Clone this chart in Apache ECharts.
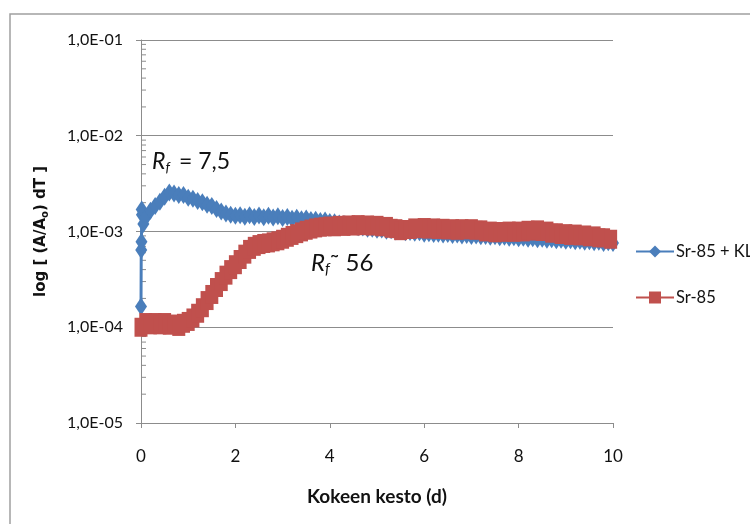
<!DOCTYPE html>
<html>
<head>
<meta charset="utf-8">
<script src="https://cdn.jsdelivr.net/npm/echarts@6/dist/echarts.min.js"></script>
<style>
  html, body { margin: 0; padding: 0; background: #fff; }
  #chart { width: 750px; height: 524px; }
</style>
</head>
<body>
<div id="chart"></div>
<script>
// Kokeen kesto (d) -> log [ (A/A0) dT ]
var blueDays = [0, 0.005, 0.01, 0.015, 0.02, 0.05,
  0.1, 0.2, 0.3, 0.4, 0.5, 0.6, 0.7, 0.8, 0.9, 1.0,
  1.1, 1.2, 1.3, 1.4, 1.5, 1.6, 1.7, 1.8, 1.9, 2.0,
  2.1, 2.2, 2.3, 2.4, 2.5, 2.6, 2.7, 2.8, 2.9, 3.0,
  3.1, 3.2, 3.3, 3.4, 3.5, 3.6, 3.7, 3.8, 3.9, 4.0,
  4.1, 4.2, 4.3, 4.4, 4.5, 4.6, 4.7, 4.8, 4.9, 5.0,
  5.1, 5.2, 5.3, 5.4, 5.5, 5.6, 5.7, 5.8, 5.9, 6.0,
  6.1, 6.2, 6.3, 6.4, 6.5, 6.6, 6.7, 6.8, 6.9, 7.0,
  7.1, 7.2, 7.3, 7.4, 7.5, 7.6, 7.7, 7.8, 7.9, 8.0,
  8.1, 8.2, 8.3, 8.4, 8.5, 8.6, 8.7, 8.8, 8.9, 9.0,
  9.1, 9.2, 9.3, 9.4, 9.5, 9.6, 9.7, 9.8, 9.9, 10.0];
var blueValues = [1.65e-4, 6.4e-4, 7.8e-4, 1.7e-3, 1.5e-3, 1.2e-3,
  1.4e-3, 1.65e-3, 1.85e-3, 2.05e-3, 2.3e-3, 2.55e-3, 2.5e-3, 2.4e-3, 2.4e-3, 2.25e-3,
  2.2e-3, 2.08e-3, 2.02e-3, 1.9e-3, 1.85e-3, 1.72e-3, 1.62e-3, 1.54e-3, 1.5e-3, 1.46e-3,
  1.48e-3, 1.43e-3, 1.48e-3, 1.42e-3, 1.47e-3, 1.41e-3, 1.46e-3, 1.4e-3, 1.44e-3, 1.38e-3,
  1.42e-3, 1.36e-3, 1.39e-3, 1.34e-3, 1.37e-3, 1.32e-3, 1.33e-3, 1.29e-3, 1.3e-3, 1.26e-3,
  1.25e-3, 1.21e-3, 1.2e-3, 1.16e-3, 1.15e-3, 1.11e-3, 1.1e-3, 1.07e-3, 1.07e-3, 1.04e-3,
  1.05e-3, 1.02e-3, 1.03e-3, 1.0e-3, 1.01e-3, 0.98e-3, 0.99e-3, 0.97e-3, 0.98e-3, 0.95e-3,
  0.96e-3, 0.94e-3, 0.95e-3, 0.93e-3, 0.94e-3, 0.92e-3, 0.93e-3, 0.91e-3, 0.92e-3, 0.9e-3,
  0.91e-3, 0.89e-3, 0.9e-3, 0.88e-3, 0.89e-3, 0.87e-3, 0.88e-3, 0.86e-3, 0.87e-3, 0.85e-3,
  0.86e-3, 0.84e-3, 0.85e-3, 0.83e-3, 0.84e-3, 0.82e-3, 0.83e-3, 0.81e-3, 0.82e-3, 0.8e-3,
  0.81e-3, 0.79e-3, 0.8e-3, 0.78e-3, 0.79e-3, 0.77e-3, 0.78e-3, 0.76e-3, 0.77e-3, 0.76e-3];

var redDays = [0, 0.1, 0.2, 0.3, 0.4, 0.5, 0.6, 0.7, 0.8, 0.9,
  1.0, 1.1, 1.2, 1.3, 1.4, 1.5, 1.6, 1.7, 1.8, 1.9,
  2.0, 2.1, 2.2, 2.3, 2.4, 2.5, 2.6, 2.7, 2.8, 2.9,
  3.0, 3.1, 3.2, 3.3, 3.4, 3.5, 3.6, 3.7, 3.8, 3.9,
  4.0, 4.1, 4.2, 4.3, 4.4, 4.5, 4.6, 4.7, 4.8, 4.9,
  5.0, 5.1, 5.2, 5.3, 5.4, 5.5, 5.6, 5.7, 5.8, 5.9,
  6.0, 6.1, 6.2, 6.3, 6.4, 6.5, 6.6, 6.7, 6.8, 6.9,
  7.0, 7.1, 7.2, 7.3, 7.4, 7.5, 7.6, 7.7, 7.8, 7.9,
  8.0, 8.1, 8.2, 8.3, 8.4, 8.5, 8.6, 8.7, 8.8, 8.9,
  9.0, 9.1, 9.2, 9.3, 9.4, 9.5, 9.6, 9.7, 9.8, 9.95];
var redValues = [1.0e-4, 1.12e-4, 1.06e-4, 1.12e-4, 1.06e-4, 1.12e-4, 1.05e-4, 1.08e-4, 1.02e-4, 1.1e-4,
  1.15e-4, 1.25e-4, 1.4e-4, 1.6e-4, 1.9e-4, 2.2e-4, 2.6e-4, 3.0e-4, 3.5e-4, 4.0e-4,
  4.5e-4, 5.1e-4, 5.8e-4, 6.5e-4, 7.0e-4, 7.3e-4, 7.5e-4, 7.6e-4, 7.8e-4, 8.0e-4,
  8.3e-4, 8.7e-4, 9.1e-4, 9.5e-4, 9.9e-4, 1.03e-3, 1.06e-3, 1.09e-3, 1.11e-3, 1.12e-3,
  1.14e-3, 1.12e-3, 1.16e-3, 1.13e-3, 1.17e-3, 1.14e-3, 1.18e-3, 1.15e-3, 1.17e-3, 1.14e-3,
  1.16e-3, 1.12e-3, 1.13e-3, 1.08e-3, 1.07e-3, 1.02e-3, 1.05e-3, 1.05e-3, 1.09e-3, 1.07e-3,
  1.1e-3, 1.06e-3, 1.09e-3, 1.05e-3, 1.08e-3, 1.04e-3, 1.07e-3, 1.03e-3, 1.07e-3, 1.04e-3,
  1.07e-3, 1.03e-3, 1.04e-3, 0.99e-3, 1.01e-3, 0.97e-3, 1.0e-3, 0.98e-3, 1.01e-3, 0.98e-3,
  1.01e-3, 0.99e-3, 1.03e-3, 1.01e-3, 1.04e-3, 1.0e-3, 1.01e-3, 0.96e-3, 0.97e-3, 0.93e-3,
  0.95e-3, 0.91e-3, 0.94e-3, 0.9e-3, 0.92e-3, 0.88e-3, 0.9e-3, 0.86e-3, 0.86e-3, 0.83e-3];

var seriesNames = ['Sr-85 + KL', 'Sr-85'];
var xTicks = [0, 2, 4, 6, 8, 10];
var yTickLabels = { '-5': '1,0E-05', '-4': '1,0E-04', '-3': '1,0E-03', '-2': '1,0E-02', '-1': '1,0E-01' };
var minorMults = [2, 3, 4, 5, 6, 7, 8, 9];
var decades = [1e-5, 1e-4, 1e-3, 1e-2];

var FONT = "'Liberation Sans Narrow', 'Arial Narrow', Lato, sans-serif";
var BLUE = '#4a7ebb';
var RED = '#c0504d';
var GRAY = '#8c8c8c';

function pairs(xs, ys) {
  var out = [];
  for (var i = 0; i < xs.length; i++) out.push([xs[i], ys[i]]);
  return out;
}

// small log ticks between decades, drawn on the y axis line
var minorTickData = [];
decades.forEach(function (d) {
  minorMults.forEach(function (m) { minorTickData.push([0, d * m]); });
});

var chart = echarts.init(document.getElementById('chart'));

var option = {
  backgroundColor: '#fff',
  animation: false,
  grid: { left: 141, right: 137, top: 40, bottom: 101, containLabel: false },
  legend: {
    orient: 'vertical',
    left: 630,
    top: 238,
    itemWidth: 38,
    itemHeight: 15,
    itemGap: 29,
    data: seriesNames,
    textStyle: { fontFamily: FONT, fontSize: 16.5, color: '#111', padding: [0, 0, 0, -3] }
  },
  xAxis: {
    type: 'value',
    min: 0,
    max: 10,
    interval: 2,
    name: 'Kokeen kesto (d)',
    nameLocation: 'middle',
    nameGap: 64,
    nameTextStyle: { fontFamily: FONT, fontSize: 19, fontWeight: 'bold', color: '#111' },
    axisLine: { show: true, lineStyle: { color: GRAY, width: 1 } },
    axisTick: { show: true, length: 5, lineStyle: { color: GRAY } },
    axisLabel: {
      fontFamily: FONT, fontSize: 17, color: '#111', margin: 25,
      formatter: function (v) { return xTicks.indexOf(v) >= 0 ? String(v) : ''; }
    },
    splitLine: { show: false }
  },
  yAxis: {
    type: 'log',
    logBase: 10,
    min: 1e-5,
    max: 1e-1,
    splitNumber: 4,
    name: '{n|log [ (A/A}{s|o}{n|) dT ]}',
    nameLocation: 'middle',
    nameGap: 91,
    nameRotate: 90,
    nameTextStyle: {
      rich: {
        n: { fontFamily: 'DejaVu Sans', fontSize: 15, fontWeight: 'bold', color: '#111' },
        s: { fontFamily: 'DejaVu Sans', fontSize: 10, fontWeight: 'bold', color: '#111', padding: [7, 0, 0, 0] }
      }
    },
    axisLine: { show: true, lineStyle: { color: GRAY, width: 1 } },
    axisTick: { show: true, length: 5, lineStyle: { color: GRAY } },
    axisLabel: {
      fontFamily: FONT, fontSize: 16, color: '#111', margin: 18,
      formatter: function (v) {
        var e = Math.round(Math.log10(v));
        return yTickLabels[String(e)] || '';
      }
    },
    splitLine: { show: true, lineStyle: { color: GRAY, width: 1 } }
  },
  series: [
    {
      type: 'custom',
      silent: true,
      z: 1,
      data: minorTickData,
      renderItem: function (params, api) {
        var p = api.coord([api.value(0), api.value(1)]);
        return {
          type: 'line',
          shape: { x1: p[0], y1: p[1], x2: p[0] + 5, y2: p[1] },
          style: { stroke: GRAY, lineWidth: 1 }
        };
      }
    },
    {
      name: seriesNames[0],
      type: 'line',
      data: pairs(blueDays, blueValues),
      symbol: 'diamond',
      symbolSize: [12, 18],
      showAllSymbol: true,
      color: BLUE,
      lineStyle: { color: BLUE, width: 3 },
      itemStyle: { color: BLUE },
      z: 3
    },
    {
      name: seriesNames[1],
      type: 'line',
      data: pairs(redDays, redValues),
      symbol: 'rect',
      symbolSize: [13, 19],
      showAllSymbol: true,
      color: RED,
      lineStyle: { color: RED, width: 3 },
      itemStyle: { color: RED },
      z: 4
    }
  ],
  graphic: [
    {
      type: 'rect',
      silent: true,
      z: -1,
      shape: { x: 10, y: 14, width: 760, height: 540 },
      style: { fill: 'none', stroke: '#a0a0a0', lineWidth: 1.5 }
    },
    {
      type: 'text',
      left: 152,
      top: 150,
      z: 10,
      style: {
        text: '{r|R}{f|f}{t|= 7,5}',
        rich: {
          r: { fontFamily: FONT, fontSize: 23, fontStyle: 'italic', fill: '#111' },
          f: { fontFamily: FONT, fontSize: 14, fontStyle: 'italic', fill: '#111', padding: [12, 0, 0, 0] },
          t: { fontFamily: FONT, fontSize: 23, fill: '#111', padding: [0, 0, 0, 9] }
        }
      }
    },
    {
      type: 'text',
      left: 311,
      top: 251,
      z: 10,
      style: {
        text: '{r|R}{f|f}{t|\u02DC 56}',
        rich: {
          r: { fontFamily: FONT, fontSize: 24, fontStyle: 'italic', fill: '#111' },
          f: { fontFamily: FONT, fontSize: 15, fontStyle: 'italic', fill: '#111', padding: [13, 0, 0, 0] },
          t: { fontFamily: FONT, fontSize: 24, fill: '#111' }
        }
      }
    }
  ]
};

chart.setOption(option);
</script>
</body>
</html>
